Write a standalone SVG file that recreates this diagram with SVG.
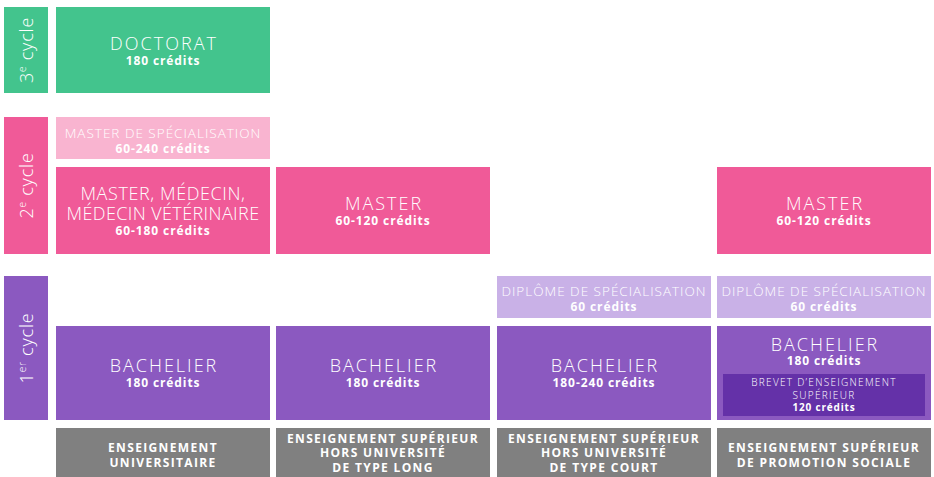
<svg xmlns="http://www.w3.org/2000/svg" width="934" height="477" viewBox="0 0 934 477">
<style>
text{font-family:"Open Sans","Noto Sans","Liberation Sans",sans-serif;fill:#fff;text-anchor:middle}
.t{font-weight:300;font-size:18px;letter-spacing:2px}
.s{font-weight:300;font-size:13.5px;letter-spacing:1px}
.c{font-weight:700;font-size:12px;letter-spacing:0.9px}
.b{font-weight:300;font-size:10px;letter-spacing:1.3px}
.bc{font-weight:700;font-size:10px;letter-spacing:0.8px}
.g{font-weight:700;font-size:12px;letter-spacing:1.35px}
.cy{font-weight:300;font-size:18px;letter-spacing:0.8px}
.green{fill:#43C48D}.pink{fill:#F05A98}.lpink{fill:#F9B4D0}.purple{fill:#8B59C0}.lpurple{fill:#C9B1E7}.dpurple{fill:#6431A8}.grey{fill:#808080}
</style>
<g id="cycle3"><rect class="green" x="4" y="7" width="44" height="86"/><text class="cy" transform="translate(33,50) rotate(-90)">3<tspan font-size="10" dy="-7">e</tspan><tspan dy="7"> cycle</tspan></text></g>
<g id="cycle2"><rect class="pink" x="4" y="117" width="44" height="137"/><text class="cy" transform="translate(33,185.5) rotate(-90)">2<tspan font-size="10" dy="-7">e</tspan><tspan dy="7"> cycle</tspan></text></g>
<g id="cycle1"><rect class="purple" x="4" y="276" width="44" height="144"/><text class="cy" transform="translate(33,348) rotate(-90)">1<tspan font-size="10" dy="-7">er</tspan><tspan dy="7"> cycle</tspan></text></g>

<g id="doctorat"><rect class="green" x="56" y="7" width="214" height="86"/><text class="t" x="164" y="50">DOCTORAT</text><text class="c" x="163" y="65">180 crédits</text></g>
<g id="master-spec"><rect class="lpink" x="56" y="117" width="214" height="42"/><text class="s" x="163" y="138">MASTER DE SPÉCIALISATION</text><text class="c" x="163" y="153">60-240 crédits</text></g>
<g id="master-medecin"><rect class="pink" x="56" y="167" width="214" height="87"/><text class="t" x="163" y="200" style="letter-spacing:0.6px">MASTER, MÉDECIN,</text><text class="t" x="163" y="220" style="letter-spacing:0.4px">MÉDECIN VÉTÉRINAIRE</text><text class="c" x="163" y="235">60-180 crédits</text></g>
<g id="master-long"><rect class="pink" x="276" y="167" width="214" height="87"/><text class="t" x="384" y="210">MASTER</text><text class="c" x="383" y="225">60-120 crédits</text></g>
<g id="master-ps"><rect class="pink" x="717" y="167" width="214" height="87"/><text class="t" x="825" y="210">MASTER</text><text class="c" x="824" y="225">60-120 crédits</text></g>

<g id="diplome-court"><rect class="lpurple" x="497" y="276" width="214" height="42"/><text class="s" x="604" y="296">DIPLÔME DE SPÉCIALISATION</text><text class="c" x="604" y="311">60 crédits</text></g>
<g id="diplome-ps"><rect class="lpurple" x="717" y="276" width="214" height="42"/><text class="s" x="824" y="296">DIPLÔME DE SPÉCIALISATION</text><text class="c" x="824" y="311">60 crédits</text></g>

<g id="bachelier-univ"><rect class="purple" x="56" y="326" width="214" height="94"/><text class="t" x="164" y="372">BACHELIER</text><text class="c" x="163" y="387">180 crédits</text></g>
<g id="bachelier-long"><rect class="purple" x="276" y="326" width="214" height="94"/><text class="t" x="384" y="372">BACHELIER</text><text class="c" x="383" y="387">180 crédits</text></g>
<g id="bachelier-court"><rect class="purple" x="497" y="326" width="214" height="94"/><text class="t" x="605" y="372">BACHELIER</text><text class="c" x="604" y="387">180-240 crédits</text></g>
<g id="bachelier-ps"><rect class="purple" x="717" y="326" width="214" height="94"/><text class="t" x="825" y="351">BACHELIER</text><text class="c" x="824" y="365">180 crédits</text>
<g id="brevet"><rect class="dpurple" x="723" y="374" width="202" height="42"/><text class="b" x="824" y="386">BREVET D’ENSEIGNEMENT</text><text class="b" x="824" y="399">SUPÉRIEUR</text><text class="bc" x="824" y="411">120 crédits</text></g></g>

<g id="ens-univ"><rect class="grey" x="56" y="428" width="214" height="49"/><text class="g" x="163" y="452">ENSEIGNEMENT</text><text class="g" x="163" y="467">UNIVERSITAIRE</text></g>
<g id="ens-long"><rect class="grey" x="276" y="428" width="214" height="49"/><text class="g" x="383" y="443">ENSEIGNEMENT SUPÉRIEUR</text><text class="g" x="383" y="457">HORS UNIVERSITÉ</text><text class="g" x="383" y="472">DE TYPE LONG</text></g>
<g id="ens-court"><rect class="grey" x="497" y="428" width="214" height="49"/><text class="g" x="604" y="443">ENSEIGNEMENT SUPÉRIEUR</text><text class="g" x="604" y="457">HORS UNIVERSITÉ</text><text class="g" x="604" y="472">DE TYPE COURT</text></g>
<g id="ens-ps"><rect class="grey" x="717" y="428" width="214" height="49"/><text class="g" x="824" y="452">ENSEIGNEMENT SUPÉRIEUR</text><text class="g" x="824" y="467">DE PROMOTION SOCIALE</text></g>
<g id="connectors"/>
</svg>
